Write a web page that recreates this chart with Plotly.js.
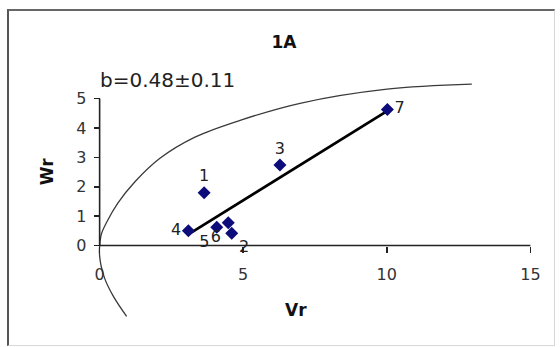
<!DOCTYPE html>
<html>
<head>
<meta charset="utf-8">
<script src="https://cdn.plot.ly/plotly-3.0.1.min.js"></script>
<style>
  html, body { margin: 0; padding: 0; background: #fff; }
  #wrap { position: relative; width: 560px; height: 347px; }
  #chart { width: 560px; height: 347px; }
  #frame {
    position: absolute; left: 7px; top: 9px; width: 545px; height: 334px;
    border-left: 2px solid #555; border-top: 2px solid #666;
    border-right: 1px solid #d8d8d8; border-bottom: 1px solid #d8d8d8;
    pointer-events: none;
  }
</style>
</head>
<body>
<div id="wrap">
  <div id="chart"></div>
  <div id="frame"></div>
</div>
<script>
// Observations: velocity ratio Vr against Wr, labelled 1..7
const pointLabels = ['1', '2', '3', '4', '5', '6', '7'];
const vr = [3.64, 4.60, 6.28, 3.09, 4.08, 4.48, 10.02];
const wr = [1.80, 0.42, 2.74, 0.50, 0.62, 0.78, 4.63];

// Hand-drawn envelope curve
const envX = [0.94, 0.48, 0.17, 0.00, 0.05, 0.25, 0.64, 1.23, 2.10, 3.32, 4.89, 6.98, 10.01, 12.96];
const envY = [-2.41, -1.73, -1.10, -0.35, 0.35, 0.80, 1.45, 2.17, 2.97, 3.69, 4.26, 4.84, 5.32, 5.49];

// Axis ticks and annotation text
const xTicks = [0, 5, 10, 15];
const yTicks = [0, 1, 2, 3, 4, 5];
const chartTitle = '1A';
const slopeText = 'b=0.48\u00b10.11';
const xTitle = 'Vr';
const yTitle = 'Wr';

// Least-squares trend line across the data range
function linearFit(x, y) {
  const n = x.length;
  const mx = x.reduce((a, b) => a + b, 0) / n;
  const my = y.reduce((a, b) => a + b, 0) / n;
  let sxy = 0, sxx = 0;
  for (let i = 0; i < n; i++) {
    sxy += (x[i] - mx) * (y[i] - my);
    sxx += (x[i] - mx) * (x[i] - mx);
  }
  const slope = sxy / sxx;
  return { slope, intercept: my - slope * mx };
}
const fit = linearFit(vr, wr);
const fitX = [Math.min(...vr), Math.max(...vr)];
const fitY = fitX.map(v => fit.intercept + fit.slope * v);

const xRange = [-0.3, 15.3];
const yRange = [-2.6, 5.7];
const font = 'DejaVu Sans, Verdana, sans-serif';

const traces = [
  {
    x: envX, y: envY, mode: 'lines', type: 'scatter',
    line: { color: '#3a3a3a', width: 1.3, shape: 'spline', smoothing: 1 },
    hoverinfo: 'skip', showlegend: false
  },
  {
    x: fitX, y: fitY, mode: 'lines', type: 'scatter',
    line: { color: '#000', width: 2.8 },
    hoverinfo: 'skip', showlegend: false
  },
  {
    x: vr, y: wr, text: pointLabels, mode: 'markers+text', type: 'scatter',
    marker: { symbol: 'diamond', size: 10, color: '#0c0c7a' },
    textposition: ['top center', 'bottom right', 'top center', 'middle left',
                   'bottom left', 'bottom left', 'middle right'],
    textfont: { family: font, size: 16, color: '#222' },
    cliponaxis: false, showlegend: false
  }
];

const layout = {
  width: 560, height: 347,
  margin: { l: 91, r: 21, t: 78, b: 25 },
  paper_bgcolor: '#fff', plot_bgcolor: 'rgba(0,0,0,0)',
  showlegend: false,
  title: {
    text: '<b>' + chartTitle + '</b>',
    font: { family: font, size: 17, color: '#111' },
    x: 0.507, xref: 'container', xanchor: 'center',
    y: 1 - 42 / 347, yref: 'container', yanchor: 'middle'
  },
  xaxis: {
    range: xRange, showgrid: false, zeroline: false, showline: false,
    tickmode: 'array', tickvals: xTicks, ticktext: xTicks.map(String),
    ticks: 'outside', ticklen: 6, tickwidth: 1.5, tickcolor: '#222',
    ticklabelstandoff: 8,
    tickfont: { family: font, size: 16, color: '#333' },
    anchor: 'free', side: 'bottom',
    position: (0 - yRange[0]) / (yRange[1] - yRange[0])
  },
  yaxis: {
    range: yRange, showgrid: false, zeroline: false, showline: false,
    tickmode: 'array', tickvals: yTicks, ticktext: yTicks.map(String),
    ticks: 'outside', ticklen: 6, tickwidth: 1.5, tickcolor: '#222',
    ticklabelstandoff: 4,
    tickfont: { family: font, size: 16, color: '#333' },
    anchor: 'free', side: 'left',
    position: (0 - xRange[0]) / (xRange[1] - xRange[0])
  },
  shapes: [
    { type: 'line', xref: 'x', yref: 'y', x0: xTicks[0], x1: xTicks[xTicks.length - 1], y0: 0, y1: 0,
      line: { color: '#222', width: 1.6 } },
    { type: 'line', xref: 'x', yref: 'y', x0: 0, x1: 0, y0: yTicks[0], y1: yTicks[yTicks.length - 1],
      line: { color: '#222', width: 1.6 } }
  ],
  annotations: [
    { text: slopeText, xref: 'x', yref: 'y', x: -0.05, y: 5.63, xanchor: 'left', yanchor: 'middle',
      showarrow: false, font: { family: font, size: 20, color: '#222' } },
    { text: '<b>' + xTitle + '</b>', xref: 'paper', yref: 'y', x: 0.4576, y: -2.2,
      xanchor: 'center', yanchor: 'middle', showarrow: false,
      font: { family: font, size: 17, color: '#111' } },
    { text: '<b>' + yTitle + '</b>', xref: 'paper', yref: 'y', x: -0.098, y: 2.5,
      xanchor: 'center', yanchor: 'middle', textangle: -90, showarrow: false,
      font: { family: font, size: 17, color: '#111' } }
  ]
};

Plotly.newPlot('chart', traces, layout, { displayModeBar: false, staticPlot: true });
</script>
</body>
</html>
